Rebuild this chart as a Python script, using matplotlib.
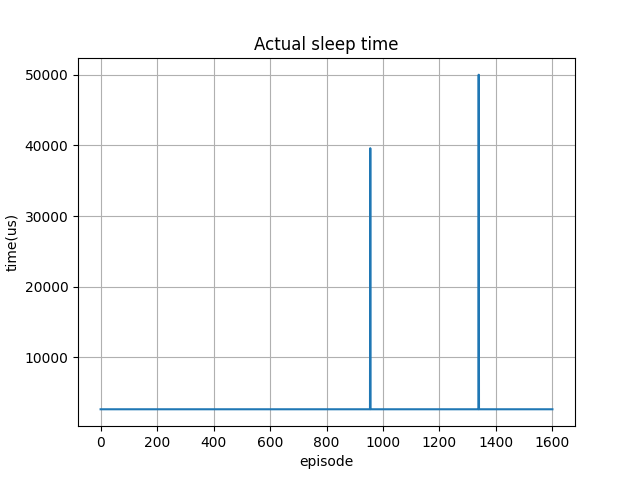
import numpy as np
import matplotlib
matplotlib.use("Agg")
import matplotlib.pyplot as plt

# values
n_episodes = 1601
baseline_us = 2650
spike_episodes = [955, 1339]
spike_values = [39600, 50000]

episodes = np.arange(n_episodes)
sleep_time = np.full(n_episodes, baseline_us, dtype=float)
for ep, val in zip(spike_episodes, spike_values):
    sleep_time[ep] = val

fig = plt.figure(figsize=(6.34, 4.79), dpi=100)
ax = fig.add_axes([78 / 634, 53 / 479, 497 / 634, 368 / 479])
ax.plot(episodes, sleep_time)
ax.set_title("Actual sleep time")
ax.set_xlabel("episode")
ax.set_ylabel("time(us)")
ax.grid(True)
fig.savefig("out.png", dpi=100)
